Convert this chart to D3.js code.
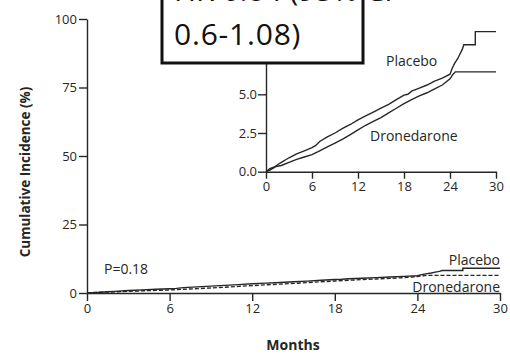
<!DOCTYPE html>
<html><head><meta charset="utf-8">
<script src="https://cdn.jsdelivr.net/npm/d3@7"></script>
<style>html,body{margin:0;padding:0;background:#fff;}svg{display:block;}</style>
</head><body>
<svg id="chart" width="510" height="356"></svg>
<script>
// ---- data ----
const monthTicks = [0, 6, 12, 18, 24, 30];
const mainYTicks = [0, 25, 50, 75, 100];
const insetYTicks = [0, 2.5, 5];
const placeboMonths = [0,0.5,1,1.5,2,3,4,5,6,6.5,7,8,9,10,11,12,13,14,15,16,17,18,18.5,19,20,21,22,23,24,24.3,24.6,25,25.3,25.6,25.8,27.3,27.3,30];
const placeboPct    = [0,0.1,0.25,0.45,0.6,0.9,1.15,1.35,1.55,1.7,1.95,2.25,2.5,2.8,3.05,3.35,3.6,3.85,4.1,4.35,4.65,4.95,5.0,5.2,5.4,5.6,5.85,6.05,6.3,6.7,7.0,7.3,7.6,7.9,8.2,8.2,9.05,9.05];
const droneMonths   = [0,0.5,1,1.5,2,3,4,5,6,7,8,9,10,11,12,13,14,15,16,17,18,19,20,21,22,23,24,24.4,24.7,30];
const dronePct      = [0,0.2,0.3,0.35,0.4,0.6,0.8,0.95,1.1,1.35,1.6,1.85,2.1,2.4,2.7,3.0,3.25,3.5,3.8,4.1,4.4,4.65,4.9,5.1,5.35,5.6,6.0,6.3,6.45,6.45];
const boxLines = ["HR 0.84 (95% CI", "0.6-1.08)"];

const placebo = placeboMonths.map((m,i)=>({m, v: placeboPct[i]}));
const drone = droneMonths.map((m,i)=>({m, v: dronePct[i]}));

const svg = d3.select("#chart");
const FONT = "'Open Sans', sans-serif";
const INK = "#262626";

function styleAxis(g){
  g.selectAll("path.domain").attr("stroke", INK).attr("stroke-width", 1.4);
  g.selectAll(".tick line").attr("stroke", INK).attr("stroke-width", 1.4);
  g.selectAll(".tick text").attr("fill", INK).attr("font-family", FONT).attr("font-size", 13);
}

// ---- main chart ----
const x = d3.scaleLinear().domain([0,30]).range([87,500]);
const y = d3.scaleLinear().domain([0,100]).range([293,19]);

svg.append("g").attr("transform","translate(0,293)")
  .call(d3.axisBottom(x).tickValues(monthTicks).tickSize(8).tickSizeOuter(0).tickPadding(3))
  .call(styleAxis);
svg.append("g").attr("transform","translate(87,0)")
  .call(d3.axisLeft(y).tickValues(mainYTicks).tickSize(8).tickSizeOuter(0).tickPadding(2))
  .call(styleAxis);

const lineMain = d3.line().x(d=>x(d.m)).y(d=>y(d.v)).curve(d3.curveLinear);
svg.append("path").datum(placebo).attr("d", lineMain).attr("fill","none").attr("stroke",INK).attr("stroke-width",1.4);
svg.append("path").datum(drone).attr("d", lineMain).attr("fill","none").attr("stroke",INK).attr("stroke-width",1.4).attr("stroke-dasharray","4,2");

svg.append("text").attr("x",500).attr("y",265).attr("text-anchor","end").attr("font-family",FONT).attr("font-size",14).attr("fill",INK).text("Placebo");
svg.append("text").attr("x",500).attr("y",292).attr("text-anchor","end").attr("font-family",FONT).attr("font-size",14).attr("fill",INK).text("Dronedarone");
svg.append("text").attr("x",104).attr("y",274).attr("font-family",FONT).attr("font-size",14).attr("fill",INK).text("P=0.18");

svg.append("text").attr("x",293).attr("y",350).attr("text-anchor","middle").attr("font-family",FONT).attr("font-weight","bold").attr("font-size",14).attr("fill",INK).text("Months");
svg.append("text").attr("transform","translate(30,172) rotate(-90)").attr("text-anchor","middle").attr("font-family",FONT).attr("font-weight","bold").attr("font-size",13.5).attr("fill",INK).text("Cumulative Incidence (%)");

// ---- inset ----
const xi = d3.scaleLinear().domain([0,30]).range([266,496]);
const yi = d3.scaleLinear().domain([0,10]).range([171.7,16.9]);

svg.append("g").attr("transform","translate(0,171.7)")
  .call(d3.axisBottom(xi).tickValues(monthTicks).tickSize(7).tickSizeOuter(0).tickPadding(3))
  .call(styleAxis);
const yAxisInset = svg.append("g").attr("transform","translate(266,0)")
  .call(d3.axisLeft(yi).tickValues(insetYTicks).tickFormat(d3.format(".1f")).tickSize(8).tickSizeOuter(0).tickPadding(1))
  .call(styleAxis);

const lineInset = d3.line().x(d=>xi(d.m)).y(d=>yi(d.v)).curve(d3.curveLinear);
svg.append("path").datum(placebo).attr("d", lineInset).attr("fill","none").attr("stroke",INK).attr("stroke-width",1.4);
svg.append("path").datum(drone).attr("d", lineInset).attr("fill","none").attr("stroke",INK).attr("stroke-width",1.4);

svg.append("text").attr("x",386).attr("y",66).attr("font-family",FONT).attr("font-size",14).attr("fill",INK).text("Placebo");
svg.append("text").attr("x",370).attr("y",141).attr("font-family",FONT).attr("font-size",14).attr("fill",INK).text("Dronedarone");

// ---- annotation box ----
svg.append("rect").attr("x",162).attr("y",-10).attr("width",201).attr("height",73)
  .attr("fill","#fff").attr("stroke","#111").attr("stroke-width",3);
svg.append("text").attr("x",174).attr("y",1).attr("font-family",FONT).attr("font-size",30).attr("fill","#111").text(boxLines[0]);
svg.append("text").attr("x",174).attr("y",45).attr("font-family",FONT).attr("font-size",30).attr("letter-spacing",0.8).attr("fill","#111").text(boxLines[1]);
</script>
</body></html>
